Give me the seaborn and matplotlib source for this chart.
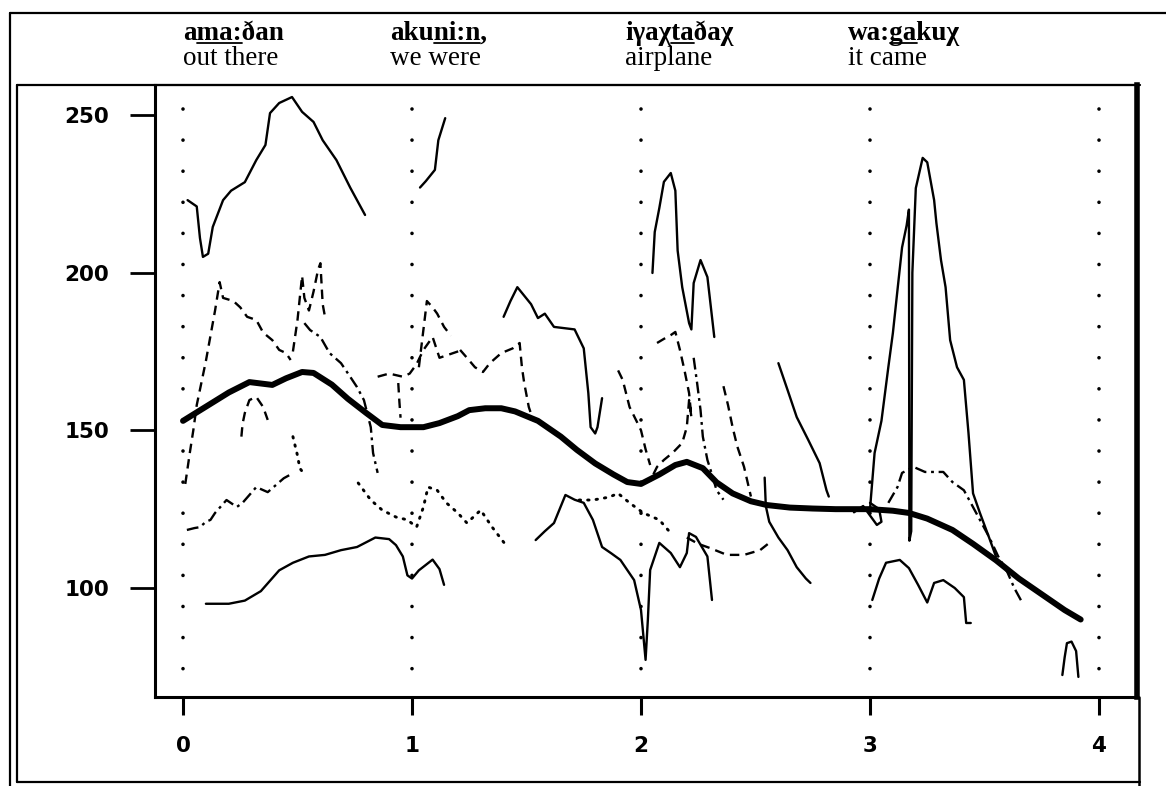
import matplotlib
matplotlib.use("Agg")
import matplotlib.pyplot as plt
import seaborn as sns
from matplotlib.lines import Line2D

sns.set_theme(style="ticks")
plt.rcParams['font.family'] = ['DejaVu Sans']
plt.rcParams['text.color'] = 'black'
plt.rcParams['axes.labelcolor'] = 'black'

# ---------------- data (time in s, F0 in Hz) ----------------
word_bounds = [0, 1, 2, 3, 4]
x_ticks = [0, 1, 2, 3, 4]
y_ticks = [100, 150, 200, 250]

# header words: (prefix, underlined part, suffix), glosses
word_pre = ["a", "aku", "iγaχ", "wa:"]
word_und = ["ma:", "ni:n", "ta", "ga"]
word_post = ["ðan", ",", "ðaχ", "kuχ"]
glosses = ["out there", "we were", "airplane", "it came"]

# thick mean contour
mean_t = [0.0, 0.1, 0.2, 0.29, 0.39, 0.45, 0.52, 0.57, 0.65, 0.72, 0.80, 0.87, 0.95, 1.05, 1.12, 1.2, 1.25,
          1.32, 1.39, 1.45, 1.55, 1.65, 1.72, 1.8, 1.88, 1.94, 2.0, 2.08, 2.15, 2.2, 2.27, 2.33, 2.4, 2.48,
          2.55, 2.65, 2.75, 2.85, 3.0, 3.1, 3.17, 3.25, 3.36, 3.45, 3.55, 3.65, 3.75, 3.85, 3.92]
mean_f = [153, 157.5, 162, 165.3, 164.4, 166.5, 168.5, 168.2, 164.5, 160, 155.5, 151.7, 151, 151, 152.3, 154.5,
          156.4, 157, 157, 156, 153, 148, 143.8, 139.5, 136, 133.6, 133, 136, 139, 140, 138, 133.5, 130, 127.5,
          126.3, 125.5, 125.2, 125, 125, 124.5, 123.8, 122, 118.4, 114, 108.8, 103, 98, 93, 90]

# solid tracks
solid1_t = [0.02, 0.04, 0.06, 0.074, 0.087, 0.11, 0.13, 0.175, 0.21, 0.27, 0.32, 0.36, 0.38, 0.42, 0.476,
            0.52, 0.57, 0.61, 0.67, 0.73, 0.795]
solid1_f = [223, 222, 221, 211, 205, 206, 214.5, 223, 226, 228.7, 235.7, 240.5, 250.6, 253.8, 255.7, 251,
            247.8, 242, 235.7, 227, 218.3]
solid2_t = [1.035, 1.06, 1.10, 1.115, 1.145]
solid2_f = [227, 229, 232.6, 242, 249]
solid3_t = [0.1, 0.2, 0.27, 0.34, 0.42, 0.48, 0.55, 0.62, 0.69, 0.76, 0.84, 0.9, 0.93, 0.96, 0.98, 1.0, 1.03,
            1.09, 1.12, 1.14]
solid3_f = [95, 95, 96, 99, 105.6, 108, 110, 110.5, 112, 113, 116, 115.5, 113.6, 110, 104, 103, 105.6, 109,
            106, 101]
solid4_t = [1.40, 1.43, 1.46, 1.52, 1.55, 1.58, 1.62, 1.71, 1.75, 1.77, 1.78, 1.80, 1.81, 1.83]
solid4_f = [186, 191, 195.4, 190, 185.6, 187, 182.8, 182, 176, 161.8, 151, 149, 151, 160.2]
solid5_t = [2.05, 2.06, 2.08, 2.10, 2.13, 2.15, 2.16, 2.18, 2.21, 2.22, 2.23, 2.26, 2.29, 2.30, 2.32]
solid5_f = [199.9, 212.9, 220.5, 228.8, 231.6, 226, 207, 195.4, 184, 182, 196.7, 204, 198.6, 192.3, 179.6]
solid6_t = [1.54, 1.58, 1.62, 1.67, 1.71, 1.75, 1.79, 1.83, 1.87, 1.91, 1.97, 2.0, 2.02, 2.03, 2.04, 2.08,
            2.13, 2.17, 2.2, 2.21, 2.24, 2.29, 2.31]
solid6_f = [115.2, 118, 120.6, 129.5, 128, 127, 121.6, 113, 111, 108.9, 102.5, 93, 77.2, 90, 105.7, 114.3,
            111.1, 106.6, 111.1, 117.4, 116.2, 110, 96.2]
solid7_t = [3.01, 3.04, 3.07, 3.13, 3.17, 3.21, 3.25, 3.28, 3.32, 3.37, 3.41, 3.42, 3.44]
solid7_f = [96.2, 103, 108, 108.9, 106.3, 101, 95.4, 101.6, 102.5, 100, 97.1, 88.9, 88.9]
solid8_t = [3.0, 3.02, 3.05, 3.08, 3.10, 3.12, 3.14, 3.16, 3.17, 3.172, 3.18, 3.185, 3.20, 3.23, 3.25, 3.28,
            3.29, 3.31, 3.33, 3.35, 3.38, 3.41, 3.43, 3.45, 3.48, 3.52, 3.55]
solid8_f = [125, 142.8, 153, 170, 180.9, 194.5, 208, 215, 220, 115, 118, 200, 226.8, 236.4, 235, 223, 215.7,
            204, 195.4, 178.6, 170, 166, 149.2, 130, 123.8, 116, 110]
solid9_t = [3.84, 3.85, 3.86, 3.88, 3.90, 3.91]
solid9_f = [72.4, 78, 82.5, 83, 80, 71.8]
solid10_t = [2.6, 2.64, 2.68, 2.73, 2.78, 2.81, 2.82]
solid10_f = [171.3, 162.8, 154.2, 147, 139.6, 131, 129]
solid11_t = [2.54, 2.545, 2.56, 2.6, 2.64, 2.68, 2.72, 2.74]
solid11_f = [135, 126, 121, 116, 112, 106.6, 103, 101.6]
solid12_t = [2.93, 2.97, 3.0, 3.03, 3.05, 3.04, 3.0]
solid12_f = [124, 126, 123, 120, 121, 125, 127]

# dashed tracks
dash1_t = [0.01, 0.03, 0.045, 0.06, 0.08, 0.1, 0.12, 0.14, 0.16, 0.175, 0.22, 0.25, 0.28, 0.32, 0.35, 0.39,
           0.42, 0.45, 0.47]
dash1_f = [133, 143, 150, 158, 165, 172, 180, 188, 197, 192, 191, 189, 186, 185, 181, 178.6, 175.5, 174.5, 172.3]
dash2_t = [0.48, 0.5, 0.52, 0.53, 0.55, 0.57, 0.59, 0.6, 0.61, 0.62]
dash2_f = [175, 185, 199, 192, 188, 194, 201, 203, 190, 186]
dash3_t = [0.85, 0.9, 0.96, 0.99, 1.02, 1.05, 1.09, 1.12, 1.16, 1.22]
dash3_f = [167, 168, 167, 168, 171, 175.5, 179.6, 173, 174, 175.5]
dash4_t = [1.21, 1.24, 1.275, 1.31, 1.34, 1.39, 1.44, 1.47, 1.48, 1.49, 1.51, 1.53]
dash4_f = [175.5, 173, 170, 168.5, 171.3, 174.5, 176, 177.7, 170, 165, 157.4, 153]
dash5_t = [1.9, 1.92, 1.95, 1.98, 2.0, 2.02, 2.04]
dash5_f = [169, 166, 157.4, 153, 150, 144, 139]
dash6_t = [2.07, 2.1, 2.13, 2.15, 2.17, 2.19, 2.21, 2.22, 2.21, 2.2, 2.18, 2.14, 2.1, 2.07, 2.04]
dash6_f = [177.7, 179, 180.2, 181.2, 175.5, 169, 161.8, 154.2, 159.6, 151, 146, 143, 140.6, 138.4, 134]
dash7_t = [2.36, 2.38, 2.4, 2.42, 2.45, 2.48]
dash7_f = [164, 158, 151, 145, 138.4, 129]
dash8_t = [2.2, 2.25, 2.3, 2.375, 2.45, 2.52, 2.56]
dash8_f = [116, 114, 112.7, 110.5, 110.5, 112, 114.3]
dash9_t = [0.255, 0.26, 0.27, 0.29, 0.32, 0.35, 0.37]
dash9_f = [148, 152, 155.5, 159.6, 160.6, 157.4, 153.3]
dash10_t = [0.94, 0.945, 0.95]
dash10_f = [165, 159, 154]
dash11_t = [1.03, 1.05, 1.065, 1.09, 1.11, 1.14, 1.17]
dash11_f = [170, 182, 191, 189, 187, 182.8, 180]

# dash-dot tracks
dd1_t = [0.53, 0.555, 0.6, 0.64, 0.69, 0.73, 0.76, 0.79, 0.82, 0.83, 0.85]
dd1_f = [184, 181.8, 179.6, 174.5, 171.3, 167, 163.7, 159.6, 151, 142.8, 136.5]
dd2_t = [0.017, 0.05, 0.074, 0.1, 0.12, 0.14, 0.19, 0.235, 0.26, 0.32, 0.37, 0.44, 0.47]
dd2_f = [118.4, 119, 119.3, 121, 121.6, 123.8, 127.9, 125.7, 127, 132, 130.4, 134.8, 136]
dd3_t = [2.23, 2.245, 2.26, 2.27, 2.29, 2.31, 2.33, 2.36]
dd3_f = [173, 165, 156.4, 148, 140.6, 136, 131, 128]
dd4_t = [3.08, 3.12, 3.14, 3.19, 3.24, 3.32, 3.36, 3.41, 3.44, 3.48, 3.52, 3.56, 3.6, 3.63, 3.66]
dd4_f = [127, 132, 136.5, 138.4, 136.8, 136.8, 133.6, 131, 127, 121.6, 116.2, 110, 105, 100, 96]

# dotted tracks
dot1_t = [0.765, 0.82, 0.87, 0.93, 0.98, 1.02, 1.05, 1.07, 1.11, 1.15, 1.2, 1.24, 1.3, 1.35, 1.41]
dot1_f = [133.3, 127.9, 124.7, 122.5, 121.6, 119.3, 125.7, 132, 131, 127, 123.8, 120.6, 124.7, 119.3, 113.6]
dot2_t = [1.73, 1.79, 1.86, 1.9, 1.95, 2.01, 2.08, 2.13]
dot2_f = [127.9, 127.9, 128.8, 130, 127, 123.8, 121.6, 117.4]
dot3_t = [0.48, 0.49, 0.5, 0.51, 0.53]
dot3_f = [148, 145, 142, 138, 136]

# ---------------- figure ----------------
W, H = 1166, 786
fig = plt.figure(figsize=(W / 100, H / 100), dpi=100)
fig.patch.set_facecolor("white")


def fx(px):
    return px / W


def fy(py):
    return 1 - py / H


ax = fig.add_axes([fx(155), fy(697), fx(1137) - fx(155), fy(85) - fy(697)])
ax.set_facecolor("white")

styles = {
    "solid": dict(linestyle="-", linewidth=1.7),
    "dashed": dict(linestyle=(0, (4, 2.6)), linewidth=1.7),
    "dashdot": dict(linestyle=(0, (5, 2, 1.2, 2)), linewidth=1.7),
    "dotted": dict(linestyle=(0, (0.5, 2.4)), linewidth=2.1, dash_capstyle="round"),
    "mean": dict(linestyle="-", linewidth=4.3, solid_capstyle="round"),
}

tracks = [
    (solid1_t, solid1_f, "solid"), (solid2_t, solid2_f, "solid"), (solid3_t, solid3_f, "solid"),
    (solid4_t, solid4_f, "solid"), (solid5_t, solid5_f, "solid"), (solid6_t, solid6_f, "solid"),
    (solid7_t, solid7_f, "solid"), (solid8_t, solid8_f, "solid"), (solid9_t, solid9_f, "solid"),
    (solid10_t, solid10_f, "solid"), (solid11_t, solid11_f, "solid"), (solid12_t, solid12_f, "solid"),
    (dash1_t, dash1_f, "dashed"), (dash2_t, dash2_f, "dashed"), (dash3_t, dash3_f, "dashed"),
    (dash4_t, dash4_f, "dashed"), (dash5_t, dash5_f, "dashed"), (dash6_t, dash6_f, "dashed"),
    (dash7_t, dash7_f, "dashed"), (dash8_t, dash8_f, "dashed"), (dash9_t, dash9_f, "dashed"),
    (dash10_t, dash10_f, "dashed"), (dash11_t, dash11_f, "dashed"),
    (dd1_t, dd1_f, "dashdot"), (dd2_t, dd2_f, "dashdot"), (dd3_t, dd3_f, "dashdot"), (dd4_t, dd4_f, "dashdot"),
    (dot1_t, dot1_f, "dotted"), (dot2_t, dot2_f, "dotted"), (dot3_t, dot3_f, "dotted"),
    (mean_t, mean_f, "mean"),
]

# word boundaries (dotted verticals)
for b in word_bounds:
    ax.plot([b, b], [252, 68], color="black", linewidth=2.6, linestyle=(0, (0.01, 8.6)),
            dash_capstyle="round", zorder=1)

for xs, ys, st in tracks:
    sns.lineplot(x=xs, y=ys, ax=ax, color="black", sort=False, estimator=None, zorder=3, **styles[st])

ax.set_xlim((155 - 183) / 229, (1137 - 183) / 229)
ax.set_ylim(100 - (697 - 588) / 3.153, 250 + (115 - 85) / 3.153)
ax.set_xticks(x_ticks)
ax.set_yticks(y_ticks)
ax.set_xticklabels([str(v) for v in x_ticks])
ax.set_yticklabels([str(v) for v in y_ticks])
ax.tick_params(axis="x", direction="out", length=13, width=2.2, pad=15, labelsize=15.5, colors="black")
ax.tick_params(axis="y", direction="out", length=18, width=2.0, pad=15, labelsize=15.5, colors="black")
for lab in ax.get_xticklabels() + ax.get_yticklabels():
    lab.set_fontweight("bold")
    lab.set_color("black")
ax.grid(False)
for side, lw in [("left", 2.2), ("bottom", 2.2), ("top", 1.5), ("right", 4.0)]:
    ax.spines[side].set_visible(True)
    ax.spines[side].set_linewidth(lw)
    ax.spines[side].set_color("black")

# frame lines around the whole figure
frame = [
    ((10, 1166), (13, 13), 1.6),
    ((10, 10), (13, 786), 1.6),
    ((17, 17), (85, 782), 1.6),
    ((17, 1140), (85, 85), 1.6),
    ((17, 1140), (782, 782), 1.6),
    ((1139, 1139), (697, 786), 1.8),
]
for xs, ys, lw in frame:
    fig.add_artist(Line2D([fx(v) for v in xs], [fy(v) for v in ys], transform=fig.transFigure,
                          color="black", linewidth=lw))

# header text with underlines
renderer = fig.canvas.get_renderer()
serif = ["Liberation Serif", "DejaVu Serif"]
word_x = [183, 390, 625, 848]
HFS = 19.5


def text_width(s):
    if not s:
        return 0.0
    t = fig.text(0, 0, s, fontsize=HFS, fontweight="bold", family=serif)
    w = t.get_window_extent(renderer).width
    t.remove()
    return w


for x0, pre, und, post, gl in zip(word_x, word_pre, word_und, word_post, glosses):
    fig.text(fx(x0), fy(40), pre + und + post, fontsize=HFS, fontweight="bold", family=serif,
             ha="left", va="baseline", color="black")
    u0 = x0 + text_width(pre)
    u1 = x0 + text_width(pre + und)
    fig.add_artist(Line2D([fx(u0), fx(u1)], [fy(43), fy(43)], transform=fig.transFigure,
                          color="black", linewidth=1.3))
    fig.text(fx(x0), fy(65), gl, fontsize=HFS, family=serif, ha="left", va="baseline", color="black")

fig.savefig("out.png", dpi=100)
